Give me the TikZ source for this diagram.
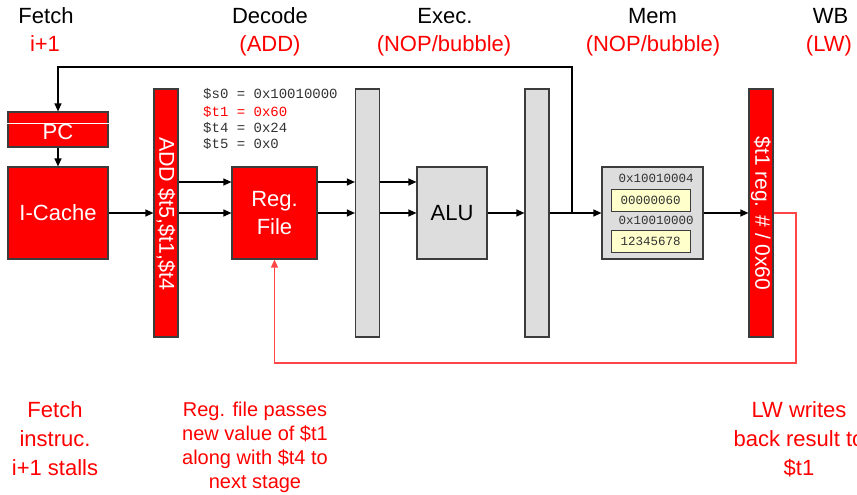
\documentclass[tikz,border=0pt]{standalone}
\usepackage{fontspec}
\setmainfont{Liberation Sans}
\newfontfamily\monof{Liberation Mono}
\usetikzlibrary{arrows.meta}
\definecolor{bord}{RGB}{60,60,60}
\definecolor{lgray}{RGB}{221,221,221}
\definecolor{lyellow}{RGB}{255,255,204}
\definecolor{fbred}{RGB}{255,70,70}
\definecolor{monog}{RGB}{50,50,50}
\begin{document}
\begin{tikzpicture}[x=1pt,y=-1pt,
  redbox/.style={draw=bord,fill=red,line width=1.2pt,inner sep=0pt,text=white,font=\fontsize{22}{28}\selectfont,align=center},
  graybox/.style={draw=bord,fill=lgray,line width=1.2pt,inner sep=0pt,font=\fontsize{22}{28}\selectfont,align=center},
  ybox/.style={draw=bord,fill=lyellow,line width=0.8pt,inner sep=0pt,minimum width=79pt,minimum height=22pt,font=\monof\fontsize{12.5}{14}\selectfont,text=monog},
  arr/.style={draw=black,line width=1.2pt,-{Triangle[length=8pt,width=7pt]}},
  fbarr/.style={draw=fbred,line width=1.3pt,-{Triangle[length=8pt,width=7pt]}},
  ttl/.style={anchor=base,font=\fontsize{22}{28}\selectfont,inner sep=0pt},
  rttl/.style={ttl,text=red},
  regtxt/.style={anchor=base west,inner sep=0pt,font=\monof\fontsize{14}{16}\selectfont,text=monog},
  memtxt/.style={anchor=base,inner sep=0pt,font=\monof\fontsize{12.5}{14}\selectfont,text=monog},
  note/.style={anchor=north,inner sep=0pt,align=center,text=red}
]
\useasboundingbox (0,0) rectangle (857,495);

% stage titles
\node[ttl] (tf) at (46,24) {Fetch};
\node[rttl] (tf2) at (45,52) {i+1};
\node[ttl] (td) at (270,24) {Decode};
\node[rttl] (td2) at (270,52) {(ADD)};
\node[ttl] (te) at (445,24) {Exec.};
\node[rttl] (te2) at (444,52) {(NOP/bubble)};
\node[ttl] (tm) at (652.5,24) {Mem};
\node[rttl] (tm2) at (653,52) {(NOP/bubble)};
\node[ttl] (tw) at (830.5,24) {WB};
\node[rttl] (tw2) at (829,52) {(LW)};

% blocks
\node[redbox,minimum width=100pt,minimum height=35pt] (pc) at (58,129.5) {};
\draw[white,line width=1pt] ([yshift=-12pt]pc.north west) -- ([yshift=-12pt]pc.north east);
\node[text=white,inner sep=0pt,font=\fontsize{22}{28}\selectfont] (pct) at (58,132) {PC};
\node[redbox,minimum width=100pt,minimum height=92pt] (ic) at (58,213) {I-Cache};
\node[redbox,minimum width=24pt,minimum height=248pt] (addreg) at (166,213) {};
\node[rotate=-90,text=white,inner sep=0pt,font=\fontsize{21.5}{26}\selectfont] (addt) at (166,213.5) {ADD \$t5,\$t1,\$t4};
\node[redbox,minimum width=85pt,minimum height=92pt] (rf) at (274.5,213) {Reg.\\File};
\node[graybox,minimum width=24pt,minimum height=248pt] (idex) at (367.5,213) {};
\node[graybox,minimum width=70pt,minimum height=92pt] (alu) at (452,213) {ALU};
\node[graybox,minimum width=24pt,minimum height=248pt] (exmem) at (537,213) {};
\node[graybox,minimum width=101pt,minimum height=92pt] (mem) at (652.5,213) {};
\node[ybox] (y1) at (650.5,200) {00000060};
\node[ybox] (y2) at (650.5,241) {12345678};
\node[memtxt] (a1) at (656,182) {0x10010004};
\node[memtxt] (a2) at (656,224) {0x10010000};
\node[redbox,minimum width=24pt,minimum height=248pt] (wb) at (761,213) {};
\node[rotate=-90,text=white,inner sep=0pt,font=\fontsize{21}{26}\selectfont] (wbt) at (761,213.5) {\$t1 reg. \# / 0x60};

% register values
\node[regtxt] (r0) at (203,99) {\$s0 = 0x10010000};
\node[regtxt,text=red] (r1) at (203,116.5) {\$t1 = 0x60};
\node[regtxt] (r2) at (203,132) {\$t4 = 0x24};
\node[regtxt] (r3) at (203,148) {\$t5 = 0x0};

% connectors
\coordinate (ya) at (0,182);
\draw[arr] (ic.east) -- (addreg.west);
\draw[arr] (addreg.east |- ya) -- (rf.west |- ya);
\draw[arr] (addreg.east) -- (rf.west);
\draw[arr] (rf.east |- ya) -- (idex.west |- ya);
\draw[arr] (rf.east) -- (idex.west);
\draw[arr] (idex.east |- ya) -- (alu.west |- ya);
\draw[arr] (idex.east) -- (alu.west);
\draw[arr] (alu.east) -- (exmem.west);
\draw[arr] (exmem.east) -- (mem.west);
\draw[arr] (mem.east) -- (wb.west);
\coordinate (jn) at (572,213);
\coordinate (tr) at (572,67);
\coordinate (tl) at (58,67);
\draw[arr] (jn) -- (tr) -- (tl) -- (pc.north);
\draw[arr] (pc.south) -- (ic.north);
\coordinate (f1) at (796,213);
\coordinate (f2) at (796,363);
\coordinate (f3) at (274.5,363);
\draw[fbarr] (wb.east) -- (f1) -- (f2) -- (f3) -- (rf.south);

% notes
\node[note,font=\fontsize{22}{29}\selectfont] (n1) at (55,401) {Fetch\\instruc.\\i+1 stalls};
\node[note,font=\fontsize{20}{24}\selectfont] (n2) at (255,402) {Reg. file passes\\new value of \$t1\\along with \$t4 to\\next stage};
\node[note,font=\fontsize{22}{29}\selectfont] (n3) at (799,401) {LW writes\\back result to\\\$t1};
\end{tikzpicture}
\end{document}
